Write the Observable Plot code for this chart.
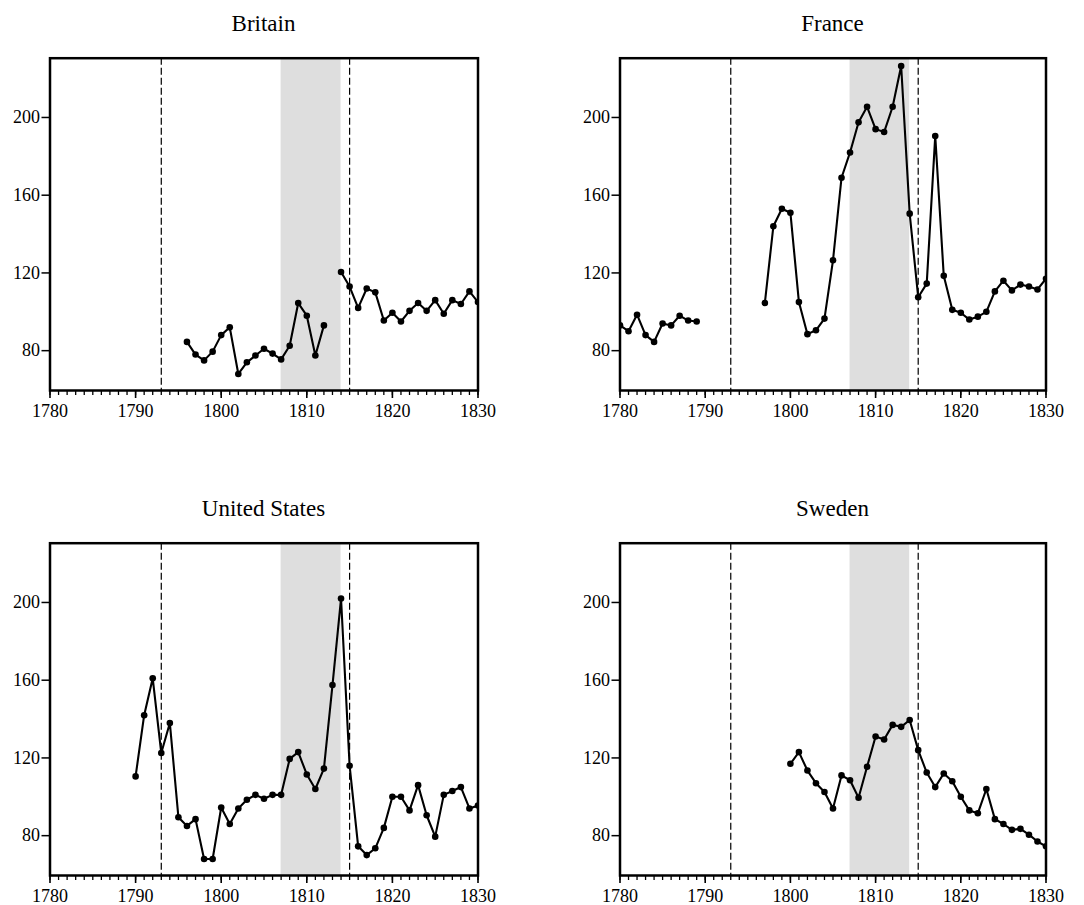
<!DOCTYPE html>
<html><head><meta charset="utf-8">
<script src="https://cdn.jsdelivr.net/npm/d3@7"></script>
<script src="https://cdn.jsdelivr.net/npm/@observablehq/plot@0.6"></script>
<style>
body{margin:0;background:#fff;}
#root{position:relative;width:1084px;height:905px;font-family:"Liberation Serif","Times New Roman",serif;}
.panel{position:absolute;}
.title{position:absolute;font-size:23px;line-height:23px;text-align:center;white-space:nowrap;color:#000;font-family:"Liberation Serif","Times New Roman",serif;}
</style></head><body><div id="root"></div>
<script>
// ---- data (index values) ----
const countries = ["Britain", "France", "United States", "Sweden"];

const britainStart = 1796;
const britain = [84.5, 78, 75, 79.5, 88, 92, 68, 74, 77.5, 81, 78.5, 75.5, 82.5, 104.5, 98, 77.5, 93, null,
  120.5, 113, 102, 112, 110, 95.5, 99.5, 95, 100.5, 104.5, 100.5, 106, 99, 106, 104, 110.5, 105];

const franceStart = 1780;
const france = [93, 90, 98.5, 88, 84.5, 94, 93, 98, 95.5, 95,
  null, null, null, null, null, null, null,
  104.5, 144, 153, 151, 105, 88.5, 90.5, 96.5, 126.5, 169, 182, 197.5, 205.5, 194, 192.5, 205.5, 226.5, 150.5,
  107.5, 114.5, 190.5, 118.5, 101, 99.5, 96, 97.5, 100, 110.5, 116, 111, 114, 113, 111.5, 117];

const usStart = 1790;
const us = [110.5, 142, 161, 122.5, 138, 89.5, 85, 88.5, 68, 68, 94.5, 86, 94, 98.5, 101, 99, 101, 101,
  119.5, 123, 111.5, 104, 114.5, 157.5, 202, 116, 74.5, 70, 73.5, 84, 100, 100, 93, 106, 90.5, 79.5,
  101, 103, 105, 94, 95.5];

const swedenStart = 1800;
const sweden = [117, 123, 113.5, 107, 102.5, 94, 111, 108.5, 99.5, 115.5, 131, 129.5, 137, 136, 139.5,
  124, 112.5, 105, 112, 108, 100, 93, 91.5, 104, 88.5, 86, 83, 83.5, 80.5, 77, 74.5];

const warPeriod = [{x1: 1807, x2: 1814}];
const markerYears = [1793, 1815];
const yTicks = [80, 120, 160, 200];
const xMajorTicks = [1780, 1790, 1800, 1810, 1820, 1830];
const xMinorTicks = d3.range(1780, 1831);

const series = [
  {name: countries[0], start: britainStart, values: britain},
  {name: countries[1], start: franceStart, values: france},
  {name: countries[2], start: usStart, values: us},
  {name: countries[3], start: swedenStart, values: sweden}
];

// ---- layout ----
const layout = [
  {left: 0,   top: 0,   ml: 49.5, mr: 64.5},
  {left: 542, top: 0,   ml: 77.5, mr: 38.5},
  {left: 0,   top: 485, ml: 49.5, mr: 64.5},
  {left: 542, top: 485, ml: 77.5, mr: 38.5}
];
const W = 542, H = 430, MT = 57.7, MB = 40;
const root = document.getElementById("root");

series.forEach((s, i) => {
  const L = layout[i];
  const data = s.values.map((v, k) => ({year: s.start + k, value: v}));
  const chart = Plot.plot({
    width: W, height: H,
    marginLeft: L.ml, marginRight: L.mr, marginTop: MT, marginBottom: MB,
    style: {fontFamily: "Liberation Serif, Times New Roman, serif", fontSize: "18px", color: "#000", background: "transparent"},
    x: {domain: [1780, 1830]},
    y: {domain: [59.5, 230.5]},
    marks: [
      Plot.rect(warPeriod, {x1: "x1", x2: "x2", fill: "#dedede"}),
      Plot.ruleX(markerYears, {stroke: "#000", strokeWidth: 1.2, strokeDasharray: "7,3"}),
      Plot.line(data, {x: "year", y: "value", stroke: "#000", strokeWidth: 2.1, clip: true}),
      Plot.dot(data.filter(d => d.value != null), {x: "year", y: "value", r: 3.3, fill: "#000", stroke: "none", clip: true}),
      Plot.axisY({ticks: yTicks, tickSize: 8, tickPadding: 2, fontSize: 18, strokeWidth: 1.5, label: null, tickFormat: d => String(d)}),
      Plot.axisX({ticks: xMinorTicks, tickSize: 5, strokeWidth: 1.3, label: null, tickFormat: () => ""}),
      Plot.axisX({ticks: xMajorTicks, tickSize: 8, tickPadding: 6, fontSize: 18, strokeWidth: 1.6, label: null, tickFormat: d => String(d)}),
      Plot.frame({stroke: "#000", strokeWidth: 2.5})
    ]
  });
  const wrap = document.createElement("div");
  wrap.className = "panel";
  wrap.style.left = L.left + "px";
  wrap.style.top = L.top + "px";
  wrap.appendChild(chart);
  root.appendChild(wrap);

  const t = document.createElement("div");
  t.className = "title";
  t.textContent = s.name;
  t.style.left = (L.left + L.ml) + "px";
  t.style.width = (W - L.ml - L.mr) + "px";
  t.style.top = (L.top + 11.8) + "px";
  root.appendChild(t);
});
</script>
</body></html>
